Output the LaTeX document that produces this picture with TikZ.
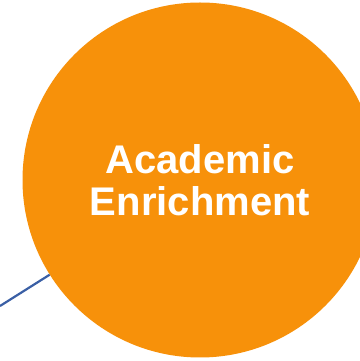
\documentclass[tikz,border=0pt]{standalone}
\usepackage{fontspec}
\setmainfont{Liberation Sans}
\usetikzlibrary{positioning}

\definecolor{enrichorange}{HTML}{F7910A}
\definecolor{linkblue}{HTML}{3A5FA5}

\begin{document}
\begin{tikzpicture}[x=1pt, y=1pt,
  bubble/.style={circle, fill=enrichorange, inner sep=0pt, minimum size=355pt, text=white, align=center, font=\fontsize{40}{42}\selectfont\bfseries},
  link/.style={draw=linkblue, line width=2.2pt}
]
  \useasboundingbox (0,0) rectangle (359,361);
  \node[bubble] (enrich) at (200,181) {Academic\\Enrichment};
  \coordinate (linkstart) at (0,55);

  \draw[link] (linkstart) -- (enrich);
\end{tikzpicture}
\end{document}
